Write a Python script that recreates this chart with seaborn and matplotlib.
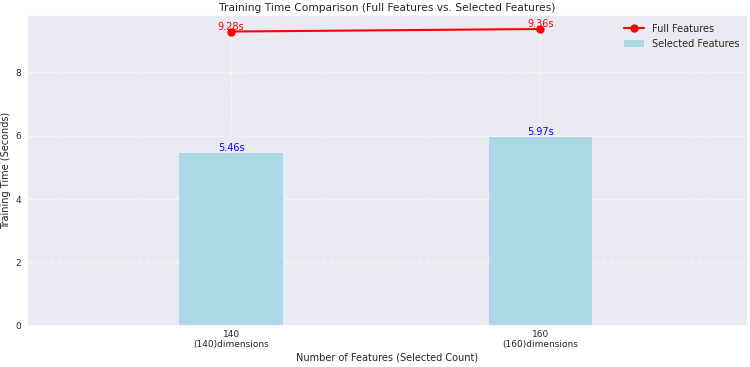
import matplotlib
matplotlib.use("Agg")
import matplotlib.pyplot as plt
import seaborn as sns
import numpy as np

features = [140, 160]
full_times = [9.28, 9.36]
selected_times = [5.46, 5.97]
tick_labels = [f"{f}\n({f})dimensions" for f in features]

sns.set_theme(style="darkgrid")
plt.rcParams['font.family'] = ['DejaVu Sans']

fig, ax = plt.subplots(figsize=(7.5, 3.67), dpi=100)
x = np.arange(len(features))

ax.bar(x, selected_times, width=0.335, color='lightblue', edgecolor='none',
       linewidth=0, label='Selected Features', zorder=2)
ax.plot(x, full_times, color='red', marker='o', markersize=5, linewidth=1.5,
        label='Full Features', zorder=3)

for xi, v in zip(x, full_times):
    ax.text(xi, v, f"{v:.2f}s", color='red', ha='center', va='bottom', fontsize=7)
for xi, v in zip(x, selected_times):
    ax.text(xi, v, f"{v:.2f}s", color='blue', ha='center', va='bottom', fontsize=7)

ax.set_xticks(x)
ax.set_xticklabels(tick_labels, fontsize=6.5)
ax.tick_params(axis='y', labelsize=6.5, length=0, pad=4)
ax.tick_params(axis='x', length=0, pad=3)
ax.set_xlim(-0.66, 1.67)
ax.set_ylim(0, 9.8)
ax.set_xlabel("Number of Features (Selected Count)", fontsize=7, labelpad=2)
ax.set_ylabel("Training Time (Seconds)", fontsize=7, labelpad=3)
ax.set_title("Training Time Comparison (Full Features vs. Selected Features)", fontsize=7.7, pad=3)
ax.grid(True, linestyle='--', alpha=0.6)
ax.legend(loc='upper right', fontsize=7, frameon=False)

fig.subplots_adjust(left=0.036, right=0.997, top=0.959, bottom=0.112)
fig.savefig("out.png", dpi=100)
